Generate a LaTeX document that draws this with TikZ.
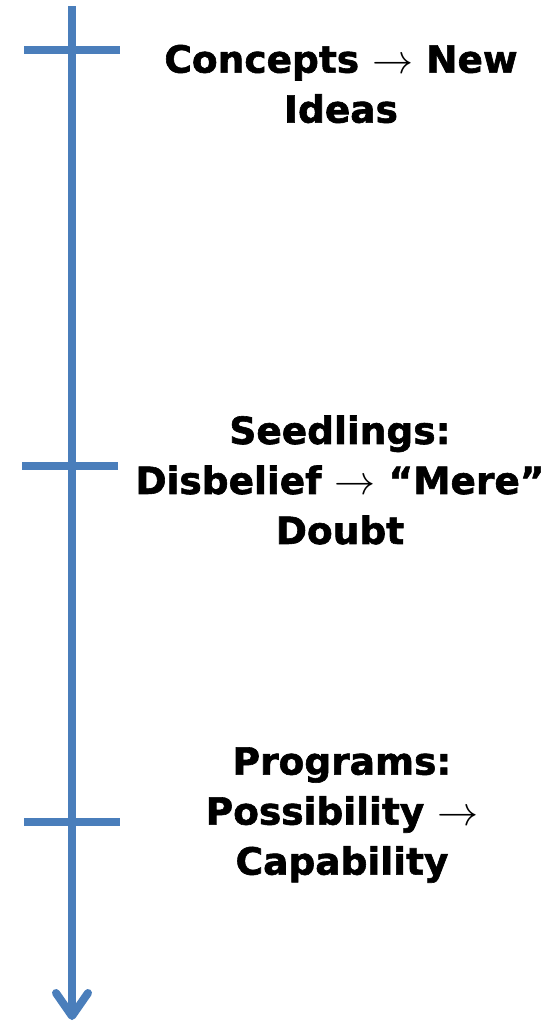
\documentclass[tikz,border=0pt]{standalone}
\usepackage{fontspec}
\usepackage{graphicx}
\setmainfont{DejaVu Sans}[BoldFeatures={FakeBold=1.6}]
\definecolor{axisblue}{RGB}{74,126,187}
\tikzset{
  axisline/.style={draw=axisblue, line width=8pt},
  lbl/.style={align=center, font=\bfseries\fontsize{37.5}{50}\selectfont, text=black, inner sep=0pt}
}
\newcommand{\thinarr}{\hspace{13pt}\raisebox{-1pt}{\scalebox{1.65}{$\rightarrow$}}\hspace{13pt}}
\begin{document}
\begin{tikzpicture}[x=1pt,y=-1pt]
\useasboundingbox (0,0) rectangle (554,1021);
\coordinate (top) at (72,6);
\coordinate (tip) at (72,1016);
\coordinate (tl) at (56,993);
\coordinate (tr) at (88,993);
\draw[axisline] (top) -- (tip);
\draw[axisline, line cap=round, line join=round] (tl) -- (tip) -- (tr);
\coordinate (a1) at (24,50); \coordinate (a2) at (120,50);
\coordinate (b1) at (22,466); \coordinate (b2) at (118,466);
\coordinate (c1) at (24,822); \coordinate (c2) at (120,822);
\draw[axisline] (a1) -- (a2);
\draw[axisline] (b1) -- (b2);
\draw[axisline] (c1) -- (c2);
\node[lbl] (t1) at (341,84) {Concepts\thinarr New\\Ideas};
\node[lbl] (t2) at (340,480) {Seedlings:\\Disbelief\thinarr “Mere”\\Doubt};
\node[lbl] (t3) at (342,815) {Programs:\\Possibility\thinarr\\Capability};
\end{tikzpicture}
\end{document}
